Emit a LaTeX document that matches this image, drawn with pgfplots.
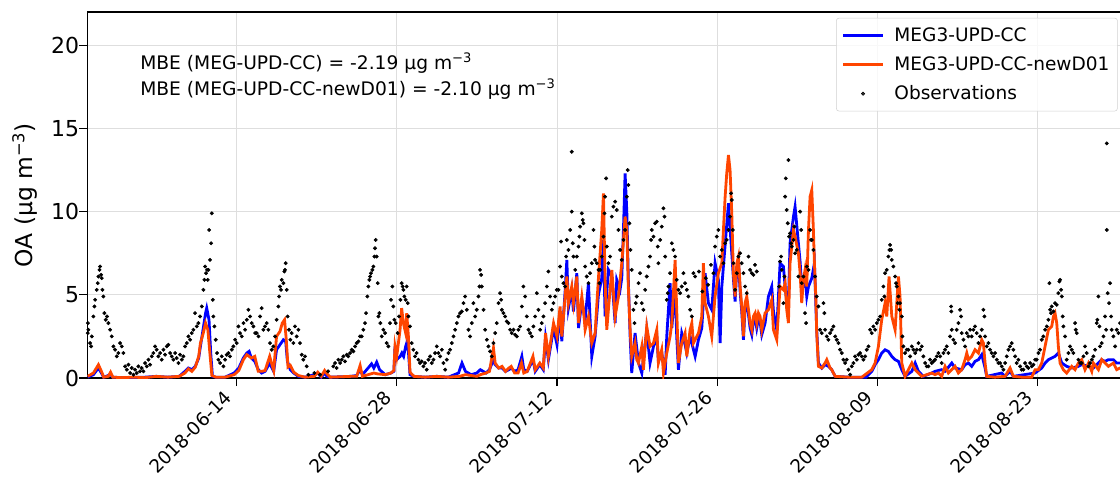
\documentclass[border=0pt]{standalone}
\usepackage{fontspec}
\setmainfont{DejaVu Sans}
\usepackage{pgfplots}
\usepackage{pgfplotstable}
\pgfplotsset{compat=1.18}
\definecolor{mblue}{RGB}{0,0,255}
\definecolor{morange}{RGB}{255,69,0}

% MEG3-UPD-CC (day since 2018-06-01, OA)
\pgfplotstableread{
x y
0 0.05
0.5 0.2
0.94 0.6
1.2 0.3
1.4 0.05
2.0 0.2
2.2 0.05
3.0 0.02
5.0 0.05
6.0 0.1
7.0 0.05
8.0 0.1
8.5 0.4
8.8 0.6
9.1 0.5
9.4 0.7
9.7 1.2
9.85 1.9
10.1 3.0
10.3 3.9
10.4 4.2
10.6 3.5
10.75 1.5
10.9 0.1
11.2 0.05
12.0 0.05
12.8 0.3
13.2 0.6
13.6 1.2
13.9 1.5
14.1 1.6
14.3 1.2
14.6 1.0
14.9 0.5
15.2 0.3
15.5 0.4
15.9 0.9
16.1 0.6
16.25 0.4
16.5 1.7
16.8 2.0
17.1 2.3
17.3 2.2
17.45 1.0
17.7 0.5
18.0 0.3
18.4 0.1
19.0 0.05
19.8 0.2
20.1 0.3
20.4 0.05
20.7 0.3
20.9 0.1
21.2 0.05
23.0 0.1
23.5 0.15
23.8 0.5
24.0 0.2
24.5 0.6
24.8 0.85
25.0 0.6
25.25 0.95
25.5 0.5
26.0 0.2
26.5 0.3
26.75 0.4
26.85 1.9
27.0 1.1
27.3 1.3
27.45 1.5
27.6 1.3
27.78 1.9
27.87 2.1
28.02 1.6
28.16 0.2
28.5 0.1
29.5 0.05
30.5 0.1
31.5 0.05
32.4 0.3
32.7 0.9
33.0 0.4
33.5 0.2
34.0 0.3
34.3 0.5
34.8 0.3
35.1 0.5
35.45 1.1
35.6 0.8
35.9 0.6
36.2 0.6
36.5 0.4
36.8 0.5
37.0 0.6
37.3 0.4
37.6 0.5
37.93 1.3
38.1 0.5
38.4 0.4
38.9 1.1
39.1 0.4
39.5 0.8
39.8 0.5
40.0 2.4
40.25 1.1
40.7 3.0
41.0 2.0
41.27 4.0
41.42 2.2
41.71 5.2
41.86 7.1
42.0 4.2
42.29 5.3
42.44 4.0
42.73 6.3
42.88 3.0
43.17 4.6
43.46 3.5
43.75 5.7
44.04 1.3
44.33 2.5
44.62 5.0
44.91 6.0
45.06 8.3
45.2 3.7
45.49 6.5
45.79 6.1
46.08 3.3
46.22 5.9
46.51 5.3
46.66 6.0
46.81 9.0
46.95 12.3
47.10 10.0
47.24 5.7
47.39 2.5
47.53 0.3
47.82 2.7
48.12 0.9
48.41 0.3
48.84 2.9
49.13 0.9
49.43 1.9
49.72 2.5
49.86 1.0
50.15 1.5
50.45 0.2
50.59 2.5
50.88 5.7
51.03 3.0
51.32 5.5
51.46 2.5
51.61 0.5
51.90 2.7
52.19 2.0
52.34 1.5
52.63 2.5
52.78 2.1
53.07 1.3
53.36 2.3
53.65 3.0
53.94 6.3
54.23 4.5
54.52 4.1
54.81 6.9
55.10 5.9
55.25 2.1
55.40 5.5
55.69 8.0
55.98 10.5
56.12 9.0
56.27 7.5
56.41 6.0
56.56 4.6
56.71 6.6
56.85 7.0
57.00 5.2
57.14 4.0
57.29 2.3
57.43 4.2
57.58 4.6
57.73 3.8
57.87 3.0
58.02 2.6
58.16 3.4
58.31 3.6
58.45 3.0
58.60 3.6
58.74 3.4
58.89 2.6
59.18 3.3
59.47 4.9
59.76 5.5
59.91 4.0
60.20 2.9
60.49 6.9
60.78 6.7
60.93 5.5
61.07 4.6
61.22 4.5
61.36 8.1
61.66 9.7
61.80 10.3
62.09 8.1
62.24 7.0
62.38 5.5
62.53 5.5
62.67 6.1
62.82 4.9
62.97 5.5
63.26 6.0
63.49 6.9
63.69 2.9
63.84 0.9
64.13 0.6
64.42 0.8
64.71 0.7
65.00 0.5
65.30 0.1
66.5 0.05
68.0 0.05
68.5 0.4
68.79 0.8
69.08 1.1
69.37 1.5
69.66 1.7
69.95 1.6
70.25 1.3
70.54 1.1
70.83 1.0
71.12 0.5
71.41 0.1
72.0 0.4
72.29 0.9
72.58 0.4
73.0 0.1
73.74 0.3
74.03 0.4
74.61 0.5
74.90 0.4
75.49 0.9
75.78 0.6
76.36 0.5
76.65 0.8
76.94 0.9
77.23 0.7
77.52 1.0
77.82 1.1
78.11 1.4
78.40 0.6
78.54 0.1
79.85 0.3
80.15 0.1
80.58 0.4
80.87 0.1
82.77 0.3
83.35 0.6
83.64 0.9
83.93 1.1
84.22 1.2
84.51 1.3
84.80 1.5
85.10 0.9
85.53 0.7
85.97 0.6
86.55 0.7
86.84 0.8
87.43 0.7
87.86 0.6
88.59 1.1
88.88 1.0
89.17 1.1
89.61 1.1
89.90 0.9
90.19 0.9
90.7 0.8
}\tblcc

% MEG3-UPD-CC-newD01
\pgfplotstableread{
x y
0 0.1
0.5 0.3
0.94 0.8
1.2 0.4
1.4 0.05
1.8 0.1
2.0 0.35
2.2 0.05
3.0 0.02
4.0 0.05
5.0 0.02
6.0 0.1
7.0 0.05
8.0 0.1
8.5 0.3
8.8 0.55
9.1 0.4
9.4 0.65
9.7 1.3
9.85 2.1
10.1 2.7
10.3 3.3
10.5 2.9
10.7 1.3
10.85 0.15
11.2 0.05
12.0 0.05
12.8 0.2
13.2 0.45
13.6 1.1
13.9 1.4
14.3 1.2
14.6 1.3
14.9 0.4
15.2 0.4
15.5 0.45
15.9 1.3
16.1 0.8
16.25 0.45
16.5 2.5
16.8 2.8
17.0 3.3
17.2 3.5
17.35 2.3
17.5 0.66
17.7 0.76
18.0 0.35
18.4 0.15
19.0 0.05
19.8 0.1
20.1 0.35
20.4 0.1
20.7 0.45
20.9 0.25
21.2 0.05
23.0 0.1
23.5 0.1
23.8 0.75
24.0 0.1
24.5 0.2
25.0 0.3
25.3 0.25
26.0 0.2
26.5 0.3
26.75 0.45
26.85 1.9
27.0 1.3
27.29 2.9
27.43 4.2
27.58 3.3
27.78 2.7
27.87 3.9
28.02 2.5
28.16 0.35
28.5 0.1
29.5 0.05
30.5 0.1
31.5 0.05
32.5 0.1
33.0 0.2
33.5 0.15
34.0 0.1
34.3 0.2
34.8 0.3
35.1 0.4
35.45 1.8
35.6 0.9
35.9 0.6
36.2 0.7
36.5 0.4
36.8 0.6
37.0 0.7
37.3 0.3
37.6 0.3
37.9 0.9
38.1 0.3
38.4 0.4
38.9 1.3
39.1 0.5
39.5 0.9
39.8 0.6
40.0 2.7
40.25 1.3
40.7 3.3
41.0 2.5
41.27 4.3
41.42 2.5
41.71 4.9
41.86 6.1
42.0 4.5
42.29 5.5
42.44 4.5
42.73 6.1
42.88 3.3
43.17 4.9
43.31 4.1
43.46 2.9
43.75 3.7
44.04 2.1
44.33 2.7
44.62 6.0
44.91 8.9
45.06 11.1
45.2 5.9
45.35 2.9
45.49 4.1
45.79 6.5
46.08 3.7
46.37 4.9
46.66 6.9
46.81 8.3
46.95 9.7
47.10 8.9
47.24 5.3
47.39 2.9
47.53 1.3
47.82 2.1
47.97 1.1
48.12 0.9
48.41 1.9
48.55 0.5
48.84 3.1
49.13 1.9
49.43 2.1
49.72 2.9
49.86 0.9
50.15 1.7
50.30 0.3
50.59 1.5
50.88 2.5
51.03 3.3
51.32 7.1
51.46 4.1
51.61 0.9
51.90 2.1
52.19 2.7
52.34 1.3
52.63 2.9
52.78 3.3
52.92 2.1
53.07 2.3
53.36 2.7
53.65 3.7
53.79 6.9
53.94 4.5
54.23 3.7
54.52 2.5
54.81 4.9
55.10 6.3
55.40 6.9
55.54 8.9
55.69 10.9
55.83 12.3
55.98 13.4
56.12 12.5
56.27 9.9
56.41 6.3
56.56 4.9
56.71 6.9
56.85 7.3
57.00 5.5
57.14 4.3
57.29 2.5
57.43 4.5
57.58 4.9
57.73 4.1
57.87 3.3
58.02 2.9
58.16 3.7
58.31 3.9
58.45 3.3
58.60 3.9
58.74 3.7
58.89 2.9
59.18 3.9
59.47 4.1
59.76 4.7
59.91 2.9
60.20 2.3
60.49 5.5
60.78 5.3
60.93 5.7
61.07 4.1
61.22 3.3
61.36 6.9
61.66 8.9
61.80 8.5
62.09 7.5
62.24 6.3
62.38 4.5
62.53 5.9
62.67 6.5
62.82 5.5
62.97 8.9
63.11 10.9
63.26 11.3
63.40 8.9
63.49 6.9
63.61 4.9
63.69 2.7
63.84 0.7
64.13 0.6
64.42 0.9
64.57 1.1
64.86 0.6
65.00 0.5
65.30 0.1
66.46 0.05
67.63 0.05
68.50 0.5
68.79 0.9
69.08 1.9
69.37 3.5
69.66 4.5
69.81 3.7
70.01 6.1
70.25 3.7
70.54 2.9
70.83 6.1
70.97 4.9
71.12 0.9
71.41 0.1
71.70 0.5
72.00 0.9
72.29 0.5
72.58 0.3
72.87 0.1
73.74 0.3
74.03 0.2
74.32 0.3
74.61 0.1
74.90 0.7
75.19 0.3
75.49 0.5
75.78 0.7
76.07 0.3
76.36 0.5
76.65 1.1
76.80 1.5
76.94 1.1
77.23 1.3
77.52 1.7
77.82 1.5
78.11 2.3
78.25 2.1
78.40 0.9
78.54 0.1
79.27 0.05
80.15 0.1
80.58 0.6
80.87 0.1
81.60 0.05
82.47 0.05
82.77 0.5
83.06 0.5
83.35 0.9
83.64 1.9
83.93 2.9
84.22 3.1
84.37 3.7
84.51 3.9
84.66 3.3
84.80 1.9
84.95 0.9
85.24 0.5
85.53 0.3
85.97 0.7
86.26 0.5
86.55 0.9
86.84 1.1
87.13 0.5
87.43 0.9
87.72 0.4
87.86 0.9
88.30 0.5
88.59 1.1
88.88 0.9
89.17 0.7
89.61 0.9
89.90 0.5
90.19 0.6
90.7 0.7
}\tblnew

% Observations
\pgfplotstableread{
x y
0.02 3.3
0.01 2.7
0.06 2.9
0.21 2.1
0.30 1.9
0.36 2.5
0.50 3.7
0.59 4.3
0.65 4.7
0.79 5.3
0.88 5.7
0.94 6.1
1.03 6.5
1.08 6.7
1.17 6.2
1.23 6.0
1.29 5.3
1.37 4.9
1.46 3.9
1.58 3.5
1.69 3.7
1.81 3.3
1.96 2.9
2.10 2.5
2.25 1.9
2.39 1.7
2.54 1.3
2.68 1.5
2.83 2.1
2.98 1.9
3.12 1.5
3.27 0.7
3.42 0.5
3.56 0.8
3.71 0.3
3.85 0.6
4.00 0.2
4.14 0.5
4.29 0.3
4.43 0.7
4.58 0.4
4.72 0.6
4.87 0.4
5.01 0.9
5.16 0.7
5.31 1.1
5.45 0.8
5.60 1.3
5.74 1.5
5.89 1.9
6.03 1.7
6.18 1.3
6.33 1.5
6.47 1.1
6.62 1.7
6.76 1.4
6.91 1.9
7.05 2.0
7.20 1.5
7.34 1.3
7.49 1.1
7.64 1.5
7.78 1.2
7.93 0.9
8.07 1.4
8.22 1.1
8.36 1.3
8.51 1.9
8.66 2.1
8.80 2.5
8.95 2.3
9.09 2.7
9.24 2.9
9.38 3.9
9.53 3.1
9.67 3.3
9.82 3.7
9.97 4.3
10.11 5.3
10.20 5.9
10.26 6.7
10.34 6.3
10.43 6.5
10.49 5.9
10.55 6.5
10.61 8.9
10.69 7.1
10.78 8.1
10.84 9.9
10.93 4.7
10.98 3.7
11.07 3.1
11.19 2.3
11.30 1.5
11.42 1.1
11.57 0.9
11.71 1.3
11.86 0.7
12.00 1.1
12.15 1.4
12.30 1.5
12.44 1.3
12.59 1.7
12.73 1.9
12.88 2.3
13.02 2.1
13.17 3.1
13.31 2.7
13.46 2.5
13.61 3.3
13.75 2.9
13.90 3.5
14.04 4.1
14.19 3.7
14.33 3.3
14.48 3.1
14.63 2.7
14.77 2.7
14.92 2.5
15.06 3.7
15.20 4.2
15.35 2.9
15.49 3.1
15.64 3.3
15.78 2.9
15.93 2.1
16.08 1.7
16.22 1.9
16.37 2.5
16.51 3.5
16.66 4.3
16.72 4.9
16.80 5.5
16.89 5.3
16.95 5.9
17.10 5.7
17.18 6.4
17.24 6.5
17.30 6.9
17.39 5.3
17.47 3.7
17.59 2.9
17.71 2.3
17.82 2.7
17.97 2.1
18.11 3.1
18.26 2.5
18.41 2.9
18.55 2.1
18.70 1.4
18.84 1.1
18.99 1.3
19.13 0.7
19.28 0.2
19.8 0.3
20.3 0.2
21.0 0.4
21.46 0.7
21.61 0.9
21.75 0.6
21.90 1.1
22.05 0.9
22.19 1.1
22.34 1.3
22.48 1.0
22.63 1.4
22.77 1.3
22.92 1.5
23.07 1.7
23.21 1.6
23.36 1.9
23.50 2.1
23.65 2.2
23.79 2.5
23.94 2.5
24.08 2.9
24.23 3.3
24.32 3.9
24.43 4.9
24.52 5.5
24.61 5.9
24.67 6.1
24.75 6.3
24.87 6.5
24.96 6.7
25.05 7.3
25.10 7.8
25.16 8.3
25.25 7.3
25.34 5.7
25.40 3.7
25.48 3.9
25.57 3.3
25.69 2.5
25.83 2.9
25.98 2.7
26.12 2.1
26.27 1.9
26.41 3.3
26.50 4.7
26.62 5.5
26.70 4.3
26.79 3.5
26.91 3.3
27.08 2.7
27.20 3.7
27.32 4.7
27.43 5.7
27.52 5.5
27.58 5.3
27.67 4.9
27.78 4.7
27.87 5.5
27.96 4.5
28.02 3.7
28.16 3.1
28.31 2.1
28.45 1.7
28.60 1.3
28.74 1.5
28.89 1.1
29.03 0.9
29.18 1.0
29.33 0.7
29.47 0.9
29.62 0.5
29.77 1.1
29.92 1.3
30.06 0.9
30.21 1.1
30.35 1.5
30.50 1.9
30.64 1.5
30.79 1.3
30.94 1.7
31.08 0.9
31.23 0.5
31.37 1.1
31.52 1.5
31.66 1.7
31.81 2.1
31.96 2.5
32.10 2.9
32.25 3.3
32.39 3.7
32.54 3.9
32.68 4.0
32.83 4.5
32.97 4.9
33.12 4.1
33.27 2.9
33.41 2.5
33.56 3.3
33.70 4.5
33.85 3.7
33.99 4.1
34.14 4.9
34.23 5.5
34.28 6.5
34.37 6.2
34.43 5.5
34.58 4.1
34.72 2.9
34.87 2.3
35.01 1.9
35.16 1.6
35.30 1.3
35.45 2.1
35.60 2.7
35.74 3.3
35.89 4.5
36.03 5.1
36.12 4.7
36.18 4.1
36.32 3.9
36.47 3.7
36.61 3.4
36.76 3.3
36.91 2.9
37.05 2.7
37.20 2.9
37.34 2.6
37.49 2.5
37.63 2.9
37.78 3.1
37.93 4.3
38.07 5.5
38.22 4.9
38.36 3.7
38.51 2.9
38.65 2.7
38.80 2.5
38.94 3.1
39.09 3.7
39.24 5.1
39.38 4.1
39.53 2.9
39.67 3.3
39.82 3.7
39.96 4.5
40.11 5.5
40.25 6.4
40.40 4.9
40.55 4.1
40.69 4.5
40.84 4.9
40.98 5.3
41.13 5.3
41.27 6.7
41.36 8.2
41.42 6.1
41.56 5.7
41.71 5.5
41.80 7.3
41.86 8.3
42.00 7.7
42.15 8.9
42.29 13.6
42.29 10.0
42.38 8.1
42.44 7.3
42.59 6.5
42.73 7.3
42.88 7.9
42.96 8.5
43.02 9.1
43.17 9.9
43.25 9.5
43.31 9.3
43.40 8.3
43.46 6.7
43.60 6.1
43.75 5.7
43.89 6.3
44.04 6.9
44.19 8.9
44.27 7.9
44.33 7.1
44.48 6.9
44.62 6.5
44.70 5.7
44.77 6.5
44.91 7.3
45.06 8.5
45.15 9.9
45.20 10.9
45.29 12.0
45.35 7.9
45.49 6.9
45.64 7.3
45.79 9.7
45.93 10.3
46.08 10.6
46.22 10.1
46.37 8.9
46.51 7.7
46.66 7.1
46.81 8.3
46.95 8.9
47.10 10.9
47.18 12.5
47.24 11.6
47.33 9.3
47.42 7.7
47.53 6.5
47.68 4.1
47.77 3.3
47.88 4.5
47.97 4.9
48.12 5.7
48.26 6.3
48.41 4.5
48.55 4.1
48.70 5.3
48.84 6.1
48.99 6.7
49.13 7.3
49.22 8.3
49.28 8.9
49.43 8.5
49.57 9.3
49.72 9.4
49.80 7.9
49.86 6.9
50.01 8.3
50.15 9.1
50.30 10.2
50.39 9.7
50.45 7.3
50.59 4.7
50.68 5.1
50.74 5.5
50.88 6.3
51.03 8.1
51.17 7.7
51.32 7.3
51.46 5.9
51.61 5.3
51.76 5.1
51.90 5.5
52.05 6.3
52.19 5.7
52.34 5.3
52.48 4.9
52.63 4.1
52.78 3.7
52.92 6.3
53.07 6.1
53.4 6.4
53.7 5.2
54.0 6.0
54.2 5.6
54.45 6.8
54.67 6.3
54.81 7.9
54.96 8.5
55.10 8.9
55.25 7.3
55.40 7.7
55.54 6.9
55.69 8.1
55.83 8.3
55.98 8.9
56.12 9.7
56.21 11.1
56.27 10.7
56.36 8.9
56.41 6.9
56.56 5.3
56.71 6.3
56.85 7.3
57.00 7.5
57.14 6.9
57.29 6.3
57.43 5.5
57.58 5.1
57.73 7.3
57.87 6.5
58.02 6.3
58.16 6.2
58.3 6.8
58.45 6.4
60.40 5.5
60.49 7.0
60.58 7.3
60.64 6.5
60.78 4.5
60.87 6.1
60.93 10.9
60.99 12.0
61.07 10.1
61.16 9.3
61.22 13.1
61.28 8.5
61.36 8.7
61.45 8.1
61.51 7.9
61.66 8.3
61.74 9.1
61.80 7.5
61.95 7.7
62.09 6.1
62.24 10.0
62.33 8.9
62.38 5.7
62.53 6.1
62.67 3.9
62.76 3.3
62.82 6.7
62.97 6.5
63.11 8.9
63.20 8.3
63.26 8.3
63.40 7.7
63.55 6.1
63.69 4.9
63.84 4.3
63.98 2.9
64.13 2.7
64.28 4.5
64.36 3.9
64.42 2.9
64.57 2.5
64.71 2.3
64.86 2.7
65.00 2.9
65.15 3.1
65.30 2.5
65.44 2.3
65.59 2.1
65.73 1.7
65.88 1.5
66.02 1.1
66.17 0.9
66.31 1.1
66.46 0.5
66.61 0.2
66.75 0.7
66.90 0.9
67.04 1.3
67.19 1.1
67.33 1.4
67.48 1.5
67.62 1.3
67.77 1.1
67.92 1.3
68.06 1.7
68.21 1.9
68.35 2.9
68.50 2.7
68.64 3.1
68.79 2.9
68.94 3.3
69.08 3.5
69.23 3.7
69.37 4.7
69.52 5.5
69.60 4.9
69.66 6.3
69.81 6.5
69.95 7.3
70.04 7.7
70.10 8.0
70.19 7.7
70.25 7.1
70.39 6.7
70.54 6.1
70.62 5.7
70.68 5.5
70.77 4.5
70.83 4.9
70.92 4.1
70.97 4.5
71.12 3.7
71.18 2.5
71.26 1.9
71.41 1.5
71.56 1.7
71.70 1.7
71.85 1.3
72.00 1.9
72.14 1.7
72.29 1.5
72.43 1.7
72.58 2.1
72.72 1.7
72.87 1.9
73.01 1.3
73.16 0.9
73.30 0.7
73.45 0.7
73.59 1.1
73.74 0.9
73.89 1.0
74.03 1.1
74.18 1.3
74.32 1.5
74.47 1.3
74.61 0.9
74.76 1.5
74.90 1.7
75.05 1.9
75.19 1.5
75.34 2.5
75.43 4.3
75.45 4.0
75.49 2.9
75.63 2.3
75.78 2.1
75.92 2.9
76.07 3.3
76.21 4.1
76.30 3.7
76.36 2.7
76.51 2.3
76.65 1.9
76.80 2.7
76.94 2.5
77.09 2.9
77.23 2.5
77.38 2.9
77.52 3.1
77.67 2.7
77.82 2.1
77.96 2.5
78.11 2.9
78.25 4.1
78.34 3.7
78.40 2.5
78.54 1.9
78.69 2.1
78.83 1.7
78.98 1.5
79.13 1.3
79.27 1.5
79.42 1.1
79.56 0.9
79.71 0.9
79.85 0.7
80.00 0.5
80.15 0.9
80.29 1.3
80.44 1.7
80.58 1.9
80.73 2.1
80.87 1.7
81.02 1.3
81.16 0.9
81.31 1.1
81.46 0.7
81.60 0.5
81.75 0.5
81.89 0.9
82.04 0.7
82.18 0.6
82.33 0.9
82.47 0.7
82.62 0.8
82.77 1.1
82.91 1.1
83.06 1.5
83.20 1.7
83.35 2.3
83.49 2.5
83.64 2.9
83.79 3.1
83.93 3.5
84.02 5.7
84.08 4.1
84.16 3.9
84.22 4.3
84.37 4.0
84.51 4.5
84.66 4.4
84.80 5.1
84.89 5.8
84.95 5.9
85.04 5.3
85.10 4.9
85.18 3.7
85.24 3.1
85.39 2.5
85.53 1.1
85.68 1.5
85.82 1.9
85.97 1.7
86.11 1.5
86.26 3.3
86.32 2.9
86.41 2.7
86.55 1.1
86.70 0.9
86.84 0.9
86.99 1.3
87.13 1.9
87.28 1.5
87.43 0.7
87.57 0.9
87.72 1.1
87.86 1.3
88.01 1.7
88.15 3.3
88.21 3.5
88.30 4.9
88.39 3.1
88.44 1.9
88.59 2.1
88.74 2.5
88.88 3.7
88.97 2.9
89.03 14.1
89.03 8.9
89.11 5.1
89.23 4.5
89.32 5.7
89.41 3.7
89.46 2.9
89.61 2.5
89.76 1.9
89.90 2.9
90.05 2.7
90.19 3.3
}\tblobs

\begin{document}
\begin{tikzpicture}
\begin{axis}[
  scale only axis,
  width=779pt, height=274.5pt,
  xmin=-0.03, xmax=90.71,
  ymin=0, ymax=22,
  xtick={13,27,41,55,69,83},
  xticklabels={2018-06-14,2018-06-28,2018-07-12,2018-07-26,2018-08-09,2018-08-23},
  ytick={0,5,10,15,20},
  tick pos=left,
  tick align=outside,
  major tick length=6pt,
  tick style={black, line width=0.8pt},
  axis line style={line width=0.8pt},
  grid=major,
  grid style={color=black!13, line width=0.7pt},
  /pgf/number format/assume math mode=true,
  yticklabel style={font=\fontsize{16.5}{18}\selectfont, inner sep=0pt, anchor=east},
  xticklabel style={font=\fontsize{13.8}{16}\selectfont, inner sep=0pt,
    xshift=-10pt, yshift=-2.5pt, rotate=45, anchor=north east},
  ylabel={OA (μg m\textsuperscript{−3})},
  ylabel style={font=\fontsize{17.5}{20}\selectfont, at={(axis description cs:-0.060,0.5)}, anchor=center},
  legend image code/.code={\draw[mark repeat=2,mark phase=2,#1] plot coordinates {(0pt,0pt) (15pt,0pt) (30pt,0pt)};},
  legend cell align=left,
  legend style={at={(axis description cs:0.992,0.984)}, anchor=north east,
    draw=black!18, rounded corners=2pt, fill=white, fill opacity=0.8, text opacity=1,
    font=\fontsize{13.9}{16}\selectfont, inner xsep=4pt, inner ysep=5pt, row sep=6pt,
    /tikz/every odd column/.append style={column sep=5.5pt}},
]
\addplot[color=mblue, line width=2.1pt] table[x=x, y=y] {\tblcc};
\addlegendentry{MEG3-UPD-CC}
\addplot[color=morange, line width=2.1pt] table[x=x, y=y] {\tblnew};
\addlegendentry{MEG3-UPD-CC-newD01}
\addplot[only marks, mark=*, mark size=1.25pt, black] table[x=x, y=y] {\tblobs};
\addlegendentry{Observations}
\node[anchor=west, inner sep=0pt, font=\fontsize{14}{16}\selectfont] at (axis description cs:0.0507,0.86) {MBE (MEG-UPD-CC) = -2.19 μg m\textsuperscript{−3}};
\node[anchor=west, inner sep=0pt, font=\fontsize{14}{16}\selectfont] at (axis description cs:0.0507,0.789) {MBE (MEG-UPD-CC-newD01) = -2.10 μg m\textsuperscript{−3}};
\end{axis}
\pgfresetboundingbox
\path ([xshift=-65.5pt,yshift=-75.75pt]current axis.south west) rectangle ([xshift=-4.5pt,yshift=9pt]current axis.north east);
\end{tikzpicture}
\end{document}
